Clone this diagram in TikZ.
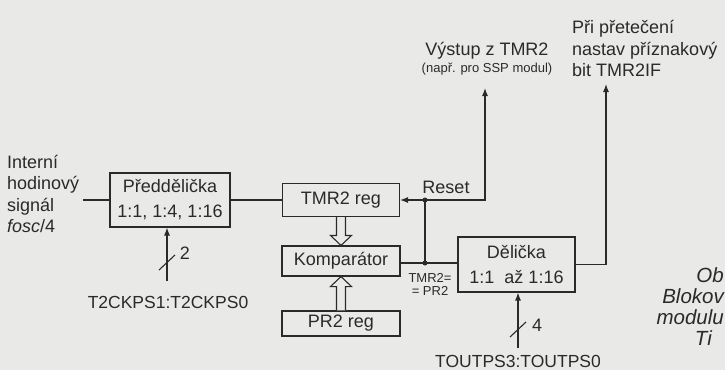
\documentclass[tikz,border=0pt]{standalone}
\usepackage{fontspec}
\setmainfont{Liberation Sans}
\usetikzlibrary{arrows.meta,calc}
\definecolor{bg}{RGB}{233,233,231}
\definecolor{ink}{RGB}{42,42,42}
\begin{document}
\begin{tikzpicture}[x=1pt,y=-1pt,
  every node/.style={text=ink, font=\fontsize{18}{22}\selectfont},
  blk/.style={draw=ink, line width=1.1pt, fill=bg, inner sep=0pt, align=center},
  wire/.style={draw=ink, line width=1.1pt},
  arr/.style={wire, -{Latex[length=8pt,width=6pt]}},
  jdot/.style={circle, fill=ink, inner sep=0pt, minimum size=5pt},
  small/.style={font=\fontsize{13}{13}\selectfont},
  digit/.style={font=\fontsize{18}{18}\selectfont},
  lbl/.style={font=\fontsize{17.5}{20}\selectfont, inner sep=0pt, anchor=base},
  capt/.style={font=\fontsize{20.5}{22}\itshape, anchor=base east, inner sep=0pt},
  txt/.style={anchor=base west, inner sep=0pt},
  hollow/.style={draw=ink, line width=1.1pt, fill=bg, line join=miter}
]
\fill[bg] (0,0) rectangle (725,370);
\useasboundingbox (0,0) rectangle (725,370);

% blocks
\node[blk, minimum width=120pt, minimum height=54pt] (pre) at (170,200) {Předdělička\\[3pt]1:1, 1:4, 1:16};
\node[blk, minimum width=117pt, minimum height=33pt] (tmr) at (341,200) {TMR2 reg};
\node[blk, minimum width=118pt, minimum height=30pt] (cmp) at (341,261) {Komparátor};
\node[blk, minimum width=118pt, minimum height=25pt] (pr2) at (341,323.5) {PR2 reg};
\node[blk, minimum width=117pt, minimum height=55pt] (del) at (516.5,264.5) {Dělička\\[3pt]1:1\ \ až 1:16};

% left source text
\node[txt] (s1) at (7,168) {Interní};
\node[txt] (s2) at (7,189.5) {hodinový};
\node[txt] (s3) at (7,211) {signál};
\node[txt] (s4) at (7,232.5) {\textit{fosc}/4};
\coordinate (in) at (83,200);
\draw[wire] (in) -- (pre.west);
\draw[wire] (pre.east) -- (tmr.west);

% hollow arrows
\draw[hollow] ($(tmr.south)+(-4.5,0)$) -- ($(cmp.north)+(-4.5,-10)$) -- ($(cmp.north)+(-10.5,-10)$)
  -- (cmp.north) -- ($(cmp.north)+(10.5,-10)$) -- ($(cmp.north)+(4.5,-10)$) -- ($(tmr.south)+(4.5,0)$);
\draw[hollow] ($(pr2.north)+(-4.5,0)$) -- ($(cmp.south)+(-4.5,10)$) -- ($(cmp.south)+(-10.5,10)$)
  -- (cmp.south) -- ($(cmp.south)+(10.5,10)$) -- ($(cmp.south)+(4.5,10)$) -- ($(pr2.north)+(4.5,0)$);

% reset / compare network
\coordinate (j1) at (425,200);
\coordinate (j2) at (425,263);
\coordinate (out1) at (485,88);
\coordinate (out2) at (606,84);
\draw[wire] (cmp.east |- j2) -- (del.west |- j2);
\draw[wire] (j2) -- (j1);
\draw[arr] (j1) -- (tmr.east);
\draw[arr] (j1) -| (out1);
\draw[arr] (del.east) -| (out2);
\node[jdot] (d1) at (j1) {};
\node[jdot] (d2) at (j2) {};
\node (reset) at (446,187) {Reset};
\node[small, align=center, inner sep=0pt] (eq) at (430,284) {TMR2=\\= PR2};

% top texts
\node[anchor=base] (vy) at (487,55) {Výstup z TMR2};
\node[small, anchor=base] (vy2) at (487,72) {(např. pro SSP modul)};
\node[txt] (t1) at (572,33) {Při přetečení};
\node[txt] (t2) at (572,55) {nastav příznakový};
\node[txt] (t3) at (572,76) {bit TMR2IF};

% bottom control inputs
\coordinate (b1) at (167,281);
\draw[arr] (b1) -- (b1 |- pre.south);
\draw[wire] ($(b1)+(-8,-11)$) -- ($(b1)+(8,-26)$);
\node[digit] (n2) at (185,253) {2};
\node[lbl] (ck) at (168,308) {T2CKPS1:T2CKPS0};

\coordinate (b2) at (518,348);
\draw[arr] (b2) -- (b2 |- del.south);
\draw[wire] ($(b2)+(-8,-11)$) -- ($(b2)+(8,-26)$);
\node[digit] (n4) at (537,325) {4};
\node[lbl] (op) at (518,367) {TOUTPS3:TOUTPS0};

% caption fragments at the right edge
\node[capt] (c1) at (724,282) {Ob};
\node[capt] (c2) at (724,303) {Blokov};
\node[capt] (c3) at (724,324) {modulu};
\node[capt] (c4) at (712,345) {Ti};
\end{tikzpicture}
\end{document}
